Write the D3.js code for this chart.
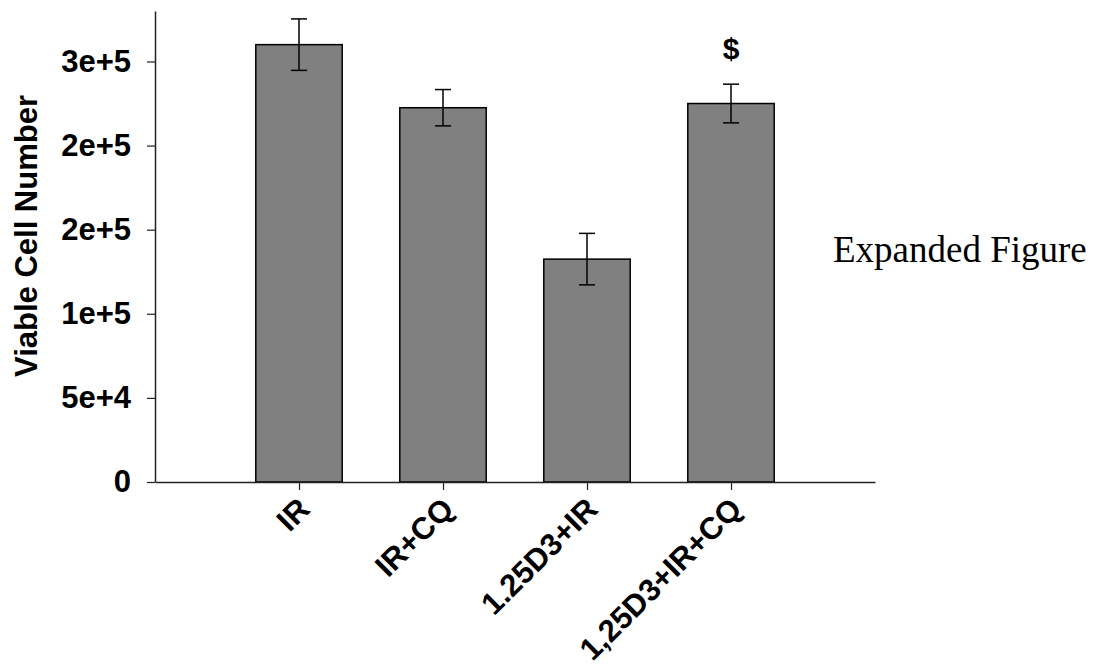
<!DOCTYPE html>
<html><head><meta charset="utf-8">
<script src="https://cdn.jsdelivr.net/npm/d3@7"></script>
<style>body{margin:0;background:#fff;} svg{display:block;}</style>
</head><body>
<svg id="chart" width="1099" height="666"></svg>
<script>
const categories = ["IR", "IR+CQ", "1.25D3+IR", "1,25D3+IR+CQ"];
const means = [260000, 222500, 132500, 225000];
const errors = [15300, 10800, 15300, 11500];
const markers = ["", "", "", "$"];
const tickValues = [0, 50000, 100000, 150000, 200000, 250000];
const tickLabels = ["0", "5e+4", "1e+5", "2e+5", "2e+5", "3e+5"];
const yTitle = "Viable Cell Number";
const sideNote = "Expanded Figure";

const svg = d3.select("#chart");
const boldFont = "Liberation Sans, Arial, Helvetica, sans-serif";
const fs = 31;

const x = d3.scalePoint().domain(categories).range([155, 875]).padding(1);
const y = d3.scaleLinear().domain([0, 280000]).range([482, 11]);
const barW = x.step() * 0.6;

// bars
svg.append("g").selectAll("rect").data(categories).join("rect")
  .attr("x", d => x(d) - barW / 2)
  .attr("y", (d, i) => y(means[i]))
  .attr("width", barW)
  .attr("height", (d, i) => y(0) - y(means[i]))
  .attr("fill", "#808080")
  .attr("stroke", "#000")
  .attr("stroke-width", 1.5);

// error bars
const eb = svg.append("g").attr("stroke", "#000").attr("stroke-width", 1.5);
categories.forEach((c, i) => {
  const cx = x(c), top = y(means[i] + errors[i]), bot = y(means[i] - errors[i]);
  eb.append("line").attr("x1", cx).attr("x2", cx).attr("y1", top).attr("y2", bot);
  eb.append("line").attr("x1", cx - 8).attr("x2", cx + 8).attr("y1", top).attr("y2", top);
  eb.append("line").attr("x1", cx - 8).attr("x2", cx + 8).attr("y1", bot).attr("y2", bot);
});

// markers
svg.append("g").selectAll("text").data(categories).join("text")
  .attr("x", d => x(d))
  .attr("y", (d, i) => y(means[i] + errors[i]) - 25)
  .attr("text-anchor", "middle")
  .attr("font-family", boldFont).attr("font-weight", "bold").attr("font-size", 30)
  .text((d, i) => markers[i]);

// y axis
const yAxis = svg.append("g").attr("transform", "translate(155,0)")
  .call(d3.axisLeft(y).tickValues(tickValues).tickFormat((d, i) => tickLabels[i]).tickSize(8).tickSizeOuter(0).tickPadding(16));
yAxis.select(".domain").attr("stroke", "#222").attr("stroke-width", 1.5);
yAxis.selectAll(".tick line").attr("stroke", "#222").attr("stroke-width", 1.2);
yAxis.selectAll(".tick text").attr("font-family", boldFont).attr("font-weight", "bold").attr("font-size", fs).attr("fill", "#000");

// x axis
const xAxis = svg.append("g").attr("transform", "translate(0,482)")
  .call(d3.axisBottom(x).tickSize(8).tickSizeOuter(0));
xAxis.select(".domain").attr("stroke", "#222").attr("stroke-width", 1.5);
xAxis.selectAll(".tick line").attr("stroke", "#222").attr("stroke-width", 1.2);
xAxis.selectAll(".tick text")
  .attr("font-family", boldFont).attr("font-weight", "bold").attr("font-size", fs).attr("fill", "#000")
  .attr("text-anchor", "end")
  .attr("x", 0).attr("y", 0).attr("dy", 0)
  .attr("transform", "translate(12,29) rotate(-45)");

// y title
svg.append("text")
  .attr("transform", "translate(37,236) rotate(-90)")
  .attr("text-anchor", "middle")
  .attr("font-family", boldFont).attr("font-weight", "bold").attr("font-size", fs)
  .text(yTitle);

// side note
svg.append("text")
  .attr("x", 833).attr("y", 262)
  .attr("font-family", "Liberation Serif, Times New Roman, serif").attr("font-size", 37)
  .text(sideNote);
</script>
</body></html>
